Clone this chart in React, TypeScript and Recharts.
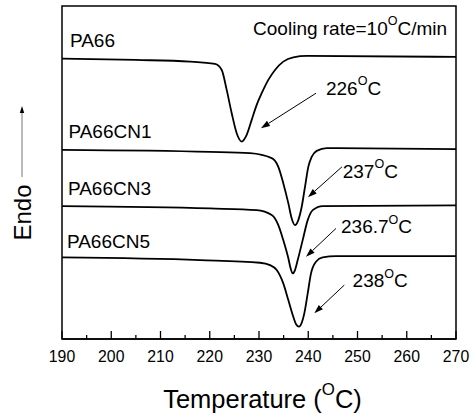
import React from "react";
import {
  LineChart,
  Line,
  XAxis,
  YAxis,
  ReferenceArea,
  ReferenceLine,
  ReferenceDot,
} from "recharts";

const FONT = "'Liberation Sans', Arial, Helvetica, sans-serif";

// Temperature (°C) and normalized heat-flow (arbitrary units, offset per curve)
const pa66 = [
  { t: 190, v: 84.2 },
  { t: 205, v: 83.8 },
  { t: 216.0, v: 83.3 },
  { t: 221.07, v: 82.6 },
  { t: 222.43, v: 80.8 },
  { t: 223.44, v: 74.8 },
  { t: 224.46, v: 67.8 },
  { t: 225.47, v: 61.8 },
  { t: 226.49, v: 59.3 },
  { t: 227.5, v: 61.3 },
  { t: 228.52, v: 65.8 },
  { t: 229.53, v: 70.3 },
  { t: 230.55, v: 73.8 },
  { t: 231.89, v: 77.8 },
  { t: 233.25, v: 80.8 },
  { t: 234.93, v: 83.3 },
  { t: 236.96, v: 84.6 },
  { t: 239.68, v: 85.0 },
  { t: 270, v: 84.7 },
];

const pa66cn1 = [
  { t: 190, v: 56.8 },
  { t: 220.05, v: 56.2 },
  { t: 228.17, v: 55.8 },
  { t: 232.58, v: 54.3 },
  { t: 233.92, v: 51.7 },
  { t: 234.93, v: 46.8 },
  { t: 235.95, v: 40.8 },
  { t: 236.64, v: 36.2 },
  { t: 237.31, v: 34.2 },
  { t: 237.98, v: 35.7 },
  { t: 238.67, v: 39.7 },
  { t: 239.34, v: 45.7 },
  { t: 240.01, v: 51.7 },
  { t: 240.7, v: 54.7 },
  { t: 241.72, v: 56.5 },
  { t: 243.75, v: 57.3 },
  { t: 270, v: 57.0 },
];

const pa66cn3 = [
  { t: 190, v: 39.9 },
  { t: 220.05, v: 39.2 },
  { t: 229.53, v: 38.7 },
  { t: 232.58, v: 37.2 },
  { t: 233.92, v: 34.2 },
  { t: 234.93, v: 29.7 },
  { t: 235.95, v: 24.3 },
  { t: 236.4, v: 21.3 },
  { t: 236.84, v: 19.7 },
  { t: 237.31, v: 20.7 },
  { t: 237.86, v: 23.7 },
  { t: 238.87, v: 29.7 },
  { t: 239.89, v: 35.7 },
  { t: 240.9, v: 38.7 },
  { t: 242.93, v: 39.9 },
  { t: 270, v: 40.1 },
];

const pa66cn5 = [
  { t: 190, v: 24.5 },
  { t: 218.02, v: 23.7 },
  { t: 230.2, v: 22.9 },
  { t: 232.23, v: 22.2 },
  { t: 233.6, v: 20.7 },
  { t: 234.93, v: 16.7 },
  { t: 235.95, v: 11.7 },
  { t: 236.96, v: 6.7 },
  { t: 237.5, v: 4.5 },
  { t: 238.12, v: 3.7 },
  { t: 238.73, v: 5.1 },
  { t: 239.2, v: 7.7 },
  { t: 239.89, v: 13.7 },
  { t: 240.56, v: 19.7 },
  { t: 241.57, v: 23.2 },
  { t: 242.93, v: 24.5 },
  { t: 245.63, v: 24.9 },
  { t: 270, v: 24.9 },
];

const majorTicks = [190, 200, 210, 220, 230, 240, 250, 260, 270];
const minorTicks = [195, 205, 215, 225, 235, 245, 255, 265];

// curve name labels: [text, t, v]
const curveLabels: [string, number, number][] = [
  ["PA66", 191.6, 87.8],
  ["PA66CN1", 191.3, 60.3],
  ["PA66CN3", 191.2, 43.2],
  ["PA66CN5", 191.0, 27.4],
];

// peak temperature labels: [value text, t, v]
const peakLabels: [string, number, number][] = [
  ["226", 243.6, 73.3],
  ["237", 247.0, 48.3],
  ["236.7", 246.65, 31.7],
  ["238", 249.0, 15.5],
];

// arrows: [fromT, fromV, toT, toV]
const arrows: [number, number, number, number][] = [
  [241.57, 73.8, 230.4, 63.3],
  [246.85, 51.7, 239.95, 42.6],
  [245.63, 33.2, 239.54, 24.7],
  [247.32, 16.2, 241.23, 7.7],
];

const SupText = ({
  x,
  y,
  before,
  after,
  size,
  anchor = "start",
}: {
  x: number;
  y: number;
  before: string;
  after: string;
  size: number;
  anchor?: string;
}) => {
  const s = size * 0.66;
  const d = size * 0.52;
  return (
    <text
      x={x}
      y={y}
      fontSize={size}
      fontFamily={FONT}
      fill="#000"
      textAnchor={anchor as any}
    >
      <tspan>{before}</tspan>
      <tspan fontSize={s} dy={-d}>
        O
      </tspan>
      <tspan dy={d}>{after}</tspan>
    </text>
  );
};

const Tick = (props: any) => {
  const { x, y, payload } = props;
  const v = payload.value;
  const major = v % 10 === 0;
  return (
    <g>
      <line
        x1={x}
        x2={x}
        y1={y}
        y2={y - (major ? 8 : 4)}
        stroke="#000"
        strokeWidth={1.3}
      />
      {major && (
        <text
          x={x}
          y={y + 22.5}
          textAnchor="middle"
          fontSize={15.8}
          fontFamily={FONT}
          fill="#000"
        >
          {v}
        </text>
      )}
    </g>
  );
};

const ArrowShape = (props: any) => {
  const { x1, y1, x2, y2 } = props;
  const dx = x2 - x1;
  const dy = y2 - y1;
  const len = Math.sqrt(dx * dx + dy * dy) || 1;
  const ux = dx / len;
  const uy = dy / len;
  const hl = 9;
  const hw = 3;
  const bx = x2 - ux * hl;
  const by = y2 - uy * hl;
  const px = -uy;
  const py = ux;
  return (
    <g>
      <line x1={x1} y1={y1} x2={bx} y2={by} stroke="#000" strokeWidth={1} />
      <polygon
        points={`${x2},${y2} ${bx + px * hw},${by + py * hw} ${bx - px * hw},${by - py * hw}`}
        fill="#000"
      />
    </g>
  );
};

const YLabel = (props: any) => {
  const vb = props.viewBox || { x: 0, y: 6, width: 62, height: 333 };
  const cx = vb.x + 22;
  const ty = vb.y + 206.5;
  const a1 = vb.y + 171;
  const a2 = vb.y + 100;
  return (
    <g>
      <text
        x={cx + 9}
        y={ty}
        transform={`rotate(-90, ${cx + 9}, ${ty})`}
        textAnchor="middle"
        fontSize={24}
        fontFamily={FONT}
        fill="#000"
      >
        Endo
      </text>
      <line x1={cx} x2={cx} y1={a1} y2={a2 + 6} stroke="#777" strokeWidth={1} />
      <polygon
        points={`${cx},${a2} ${cx - 2.2},${a2 + 7} ${cx + 2.2},${a2 + 7}`}
        fill="#000"
      />
    </g>
  );
};

const XLabel = (props: any) => {
  const vb = props.viewBox || { x: 62, y: 339, width: 394, height: 75 };
  return (
    <SupText
      x={vb.x + vb.width / 2 + 3.5}
      y={vb.y + 69}
      before="Temperature ("
      after="C)"
      size={25.5}
      anchor="middle"
    />
  );
};

export default function App() {
  return (
    <div style={{ position: "absolute", left: 0, top: 0 }}>
      <LineChart
        width={472}
        height={414}
        margin={{ top: 6, right: 16, left: 0, bottom: 0 }}
      >
        <XAxis
          type="number"
          dataKey="t"
          domain={[190, 270]}
          ticks={[...majorTicks, ...minorTicks].sort((a, b) => a - b)}
          interval={0}
          tickSize={0}
          tickMargin={0}
          tickLine={false}
          tick={<Tick />}
          height={75}
          axisLine={{ stroke: "#000", strokeWidth: 1.5 }}
          allowDataOverflow
          label={<XLabel />}
        />
        <YAxis
          type="number"
          domain={[0, 100]}
          width={62}
          tick={false}
          tickLine={false}
          axisLine={false}
          allowDataOverflow
          label={<YLabel />}
        />
        <ReferenceArea
          x1={190}
          x2={270}
          y1={0}
          y2={100}
          fill="none"
          fillOpacity={0}
          stroke="#000"
          strokeWidth={1.5}
          ifOverflow="visible"
        />
        {[pa66, pa66cn1, pa66cn3, pa66cn5].map((d, i) => (
          <Line
            key={i}
            data={d}
            dataKey="v"
            type="monotone"
            stroke="#000"
            strokeWidth={1.8}
            dot={false}
            activeDot={false}
            isAnimationActive={false}
          />
        ))}
        {arrows.map(([a, b, c, e], i) => (
          <ReferenceLine
            key={"ar" + i}
            segment={[
              { x: a, y: b },
              { x: c, y: e },
            ]}
            stroke="#000"
            ifOverflow="visible"
            shape={<ArrowShape />}
          />
        ))}
        {curveLabels.map(([txt, t, v]) => (
          <ReferenceDot
            key={txt}
            x={t}
            y={v}
            r={0}
            ifOverflow="visible"
            shape={(p: any) => (
              <text
                x={p.cx}
                y={p.cy}
                fontSize={19}
                fontFamily={FONT}
                fill="#000"
              >
                {txt}
              </text>
            )}
          />
        ))}
        {peakLabels.map(([txt, t, v]) => (
          <ReferenceDot
            key={"pk" + txt}
            x={t}
            y={v}
            r={0}
            ifOverflow="visible"
            shape={(p: any) => (
              <SupText x={p.cx} y={p.cy} before={txt} after="C" size={19} />
            )}
          />
        ))}
        <ReferenceDot
          x={228.8}
          y={91.3}
          r={0}
          ifOverflow="visible"
          shape={(p: any) => (
            <SupText
              x={p.cx}
              y={p.cy}
              before="Cooling rate=10"
              after="C/min"
              size={19}
            />
          )}
        />
      </LineChart>
    </div>
  );
}
